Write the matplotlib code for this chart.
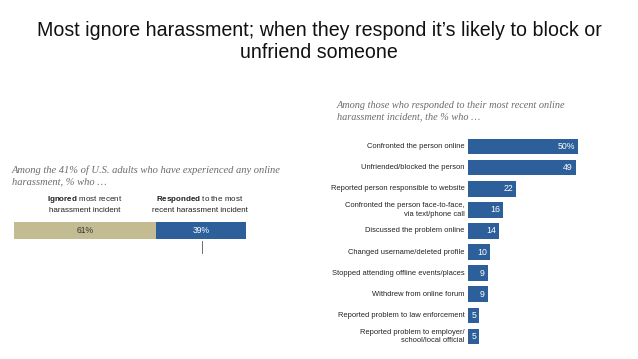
import matplotlib
matplotlib.use("Agg")
import matplotlib.pyplot as plt

W, H = 638, 359

# left chart data
split_labels = ["Ignored", "Responded"]
split_values = [61, 39]

# right chart data
actions = [
    "Confronted the person online",
    "Unfriended/blocked the person",
    "Reported person responsible to website",
    "Confronted the person face-to-face,\nvia text/phone call",
    "Discussed the problem online",
    "Changed username/deleted profile",
    "Stopped attending offline events/places",
    "Withdrew from online forum",
    "Reported problem to law enforcement",
    "Reported problem to employer/\nschool/local official",
]
action_values = [50, 49, 22, 16, 14, 10, 9, 9, 5, 5]

BLUE = "#2D5F9A"
TAN = "#C3BC93"
GREY = "#6b6b6b"

plt.rcParams["font.family"] = ["Liberation Sans", "DejaVu Sans"]
plt.rcParams["mathtext.fontset"] = "custom"
plt.rcParams["mathtext.rm"] = "Liberation Sans"
plt.rcParams["mathtext.bf"] = "Liberation Sans:bold"

fig = plt.figure(figsize=(W / 100, H / 100), dpi=100)


def fx(px):
    return px / W


def fy(py):
    return 1 - py / H


fig.text(0.5, fy(30), "Most ignore harassment; when they respond it\u2019s likely to block or",
         ha="center", va="center", fontsize=14.1, color="#111111")
fig.text(0.5, fy(52), "unfriend someone", ha="center", va="center",
         fontsize=14.1, color="#111111")

# ---- left: ignored vs responded ----
fig.text(fx(12), fy(176), "Among the 41% of U.S. adults who have experienced any online\nharassment, % who \u2026",
         ha="left", va="center", fontsize=7.6, style="italic", color=GREY,
         family=["Liberation Serif", "DejaVu Serif"], linespacing=1.25)

axl = fig.add_axes([fx(14), fy(239), fx(232), 17 / H])
left = 0
for v, c, tc in zip(split_values, [TAN, BLUE], ["#333333", "white"]):
    axl.barh(0, v, left=left, height=1, color=c)
    axl.text(left + v / 2, 0, f"{v}%", ha="center", va="center", fontsize=6.2, color=tc)
    left += v
axl.set_xlim(0, 100)
axl.set_ylim(-0.5, 0.5)
axl.axis("off")

fig.text(fx(85), fy(204), r"$\mathbf{Ignored}$ most recent" + "\nharassment incident",
         ha="center", va="center", fontsize=5.8, color="#222222", linespacing=1.3)
fig.text(fx(200), fy(204), r"$\mathbf{Responded}$ to the most" + "\nrecent harassment incident",
         ha="center", va="center", fontsize=5.8, color="#222222", linespacing=1.3)
fig.add_artist(plt.Line2D([fx(202), fx(202)], [fy(241), fy(253)], color="#555555", lw=0.6))

# ---- right: what respondents did ----
fig.text(fx(337), fy(111), "Among those who responded to their most recent online\nharassment incident, the % who \u2026",
         ha="left", va="center", fontsize=7.4, style="italic", color=GREY,
         family=["Liberation Serif", "DejaVu Serif"], linespacing=1.25)

axr = fig.add_axes([fx(468), fy(347), fx(160), 211 / H])
ypos = list(range(len(actions)))
axr.barh(ypos, action_values, height=0.74, color=BLUE)
for i, (lab, v) in enumerate(zip(actions, action_values)):
    txt = f"{v}%" if i == 0 else f"{v}"
    axr.text(v - 1.3, i, txt, ha="right", va="center", fontsize=6.3, color="white")
    axr.text(-1.5, i, lab, ha="right", va="center", fontsize=5.4, color="#222222",
             linespacing=1.35)
axr.set_xlim(0, 160 / 2.2)
axr.set_ylim(len(actions) - 0.5, -0.5)
axr.axis("off")

fig.savefig("out.png", dpi=100)
